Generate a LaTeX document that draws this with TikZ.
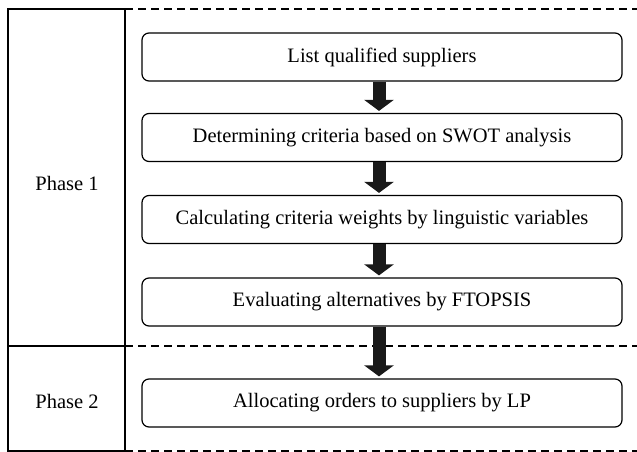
\documentclass[tikz,border=0pt]{standalone}
\usepackage{fontspec}
\setmainfont{Liberation Serif}
\usetikzlibrary{arrows.meta}
\tikzset{
  stepbox/.style={draw, line width=1.2pt, rounded corners=7pt, minimum width=480pt, minimum height=48pt, inner sep=0pt, font=\fontsize{20.5}{24}\selectfont},
  phaselbl/.style={font=\fontsize{20.5}{24}\selectfont, inner sep=0pt},
  frame/.style={line width=1.3pt},
  dashline/.style={line width=1.3pt, dash pattern=on 8pt off 5pt},
  flow/.style={line width=13pt, color=black!90, -{Triangle[width=29pt,length=11pt]}, shorten >=2pt}
}
\begin{document}
\begin{tikzpicture}[x=1pt,y=-1pt]
\useasboundingbox (0,0) rectangle (637,452);
% frame
\draw[frame] (125,9) -- (8,9) -- (8,451) -- (125,451);
\draw[frame] (125,9) -- (125,451);
\draw[frame] (8,346) -- (125,346);
\draw[dashline] (125,9) -- (637,9);
\draw[dashline] (125,346) -- (637,346);
\draw[dashline] (125,451) -- (637,451);
% labels
\node[phaselbl] (p1) at (67,183) {Phase 1};
\node[phaselbl] (p2) at (67,401) {Phase 2};
% boxes
\node[stepbox] (b1) at (382,57) {List qualified suppliers};
\node[stepbox] (b2) at (382,137.5) {Determining criteria based on SWOT analysis};
\node[stepbox] (b3) at (382,219.5) {Calculating criteria weights by linguistic variables};
\node[stepbox] (b4) at (382,302) {Evaluating alternatives by FTOPSIS};
\node[stepbox] (b5) at (382,403) {Allocating orders to suppliers by LP};
% arrows
\foreach \a/\b in {b1/b2,b2/b3,b3/b4,b4/b5}{
  \draw[flow] ([xshift=-3pt]\a.south) -- ([xshift=-3pt]\b.north);
}
\end{tikzpicture}
\end{document}
